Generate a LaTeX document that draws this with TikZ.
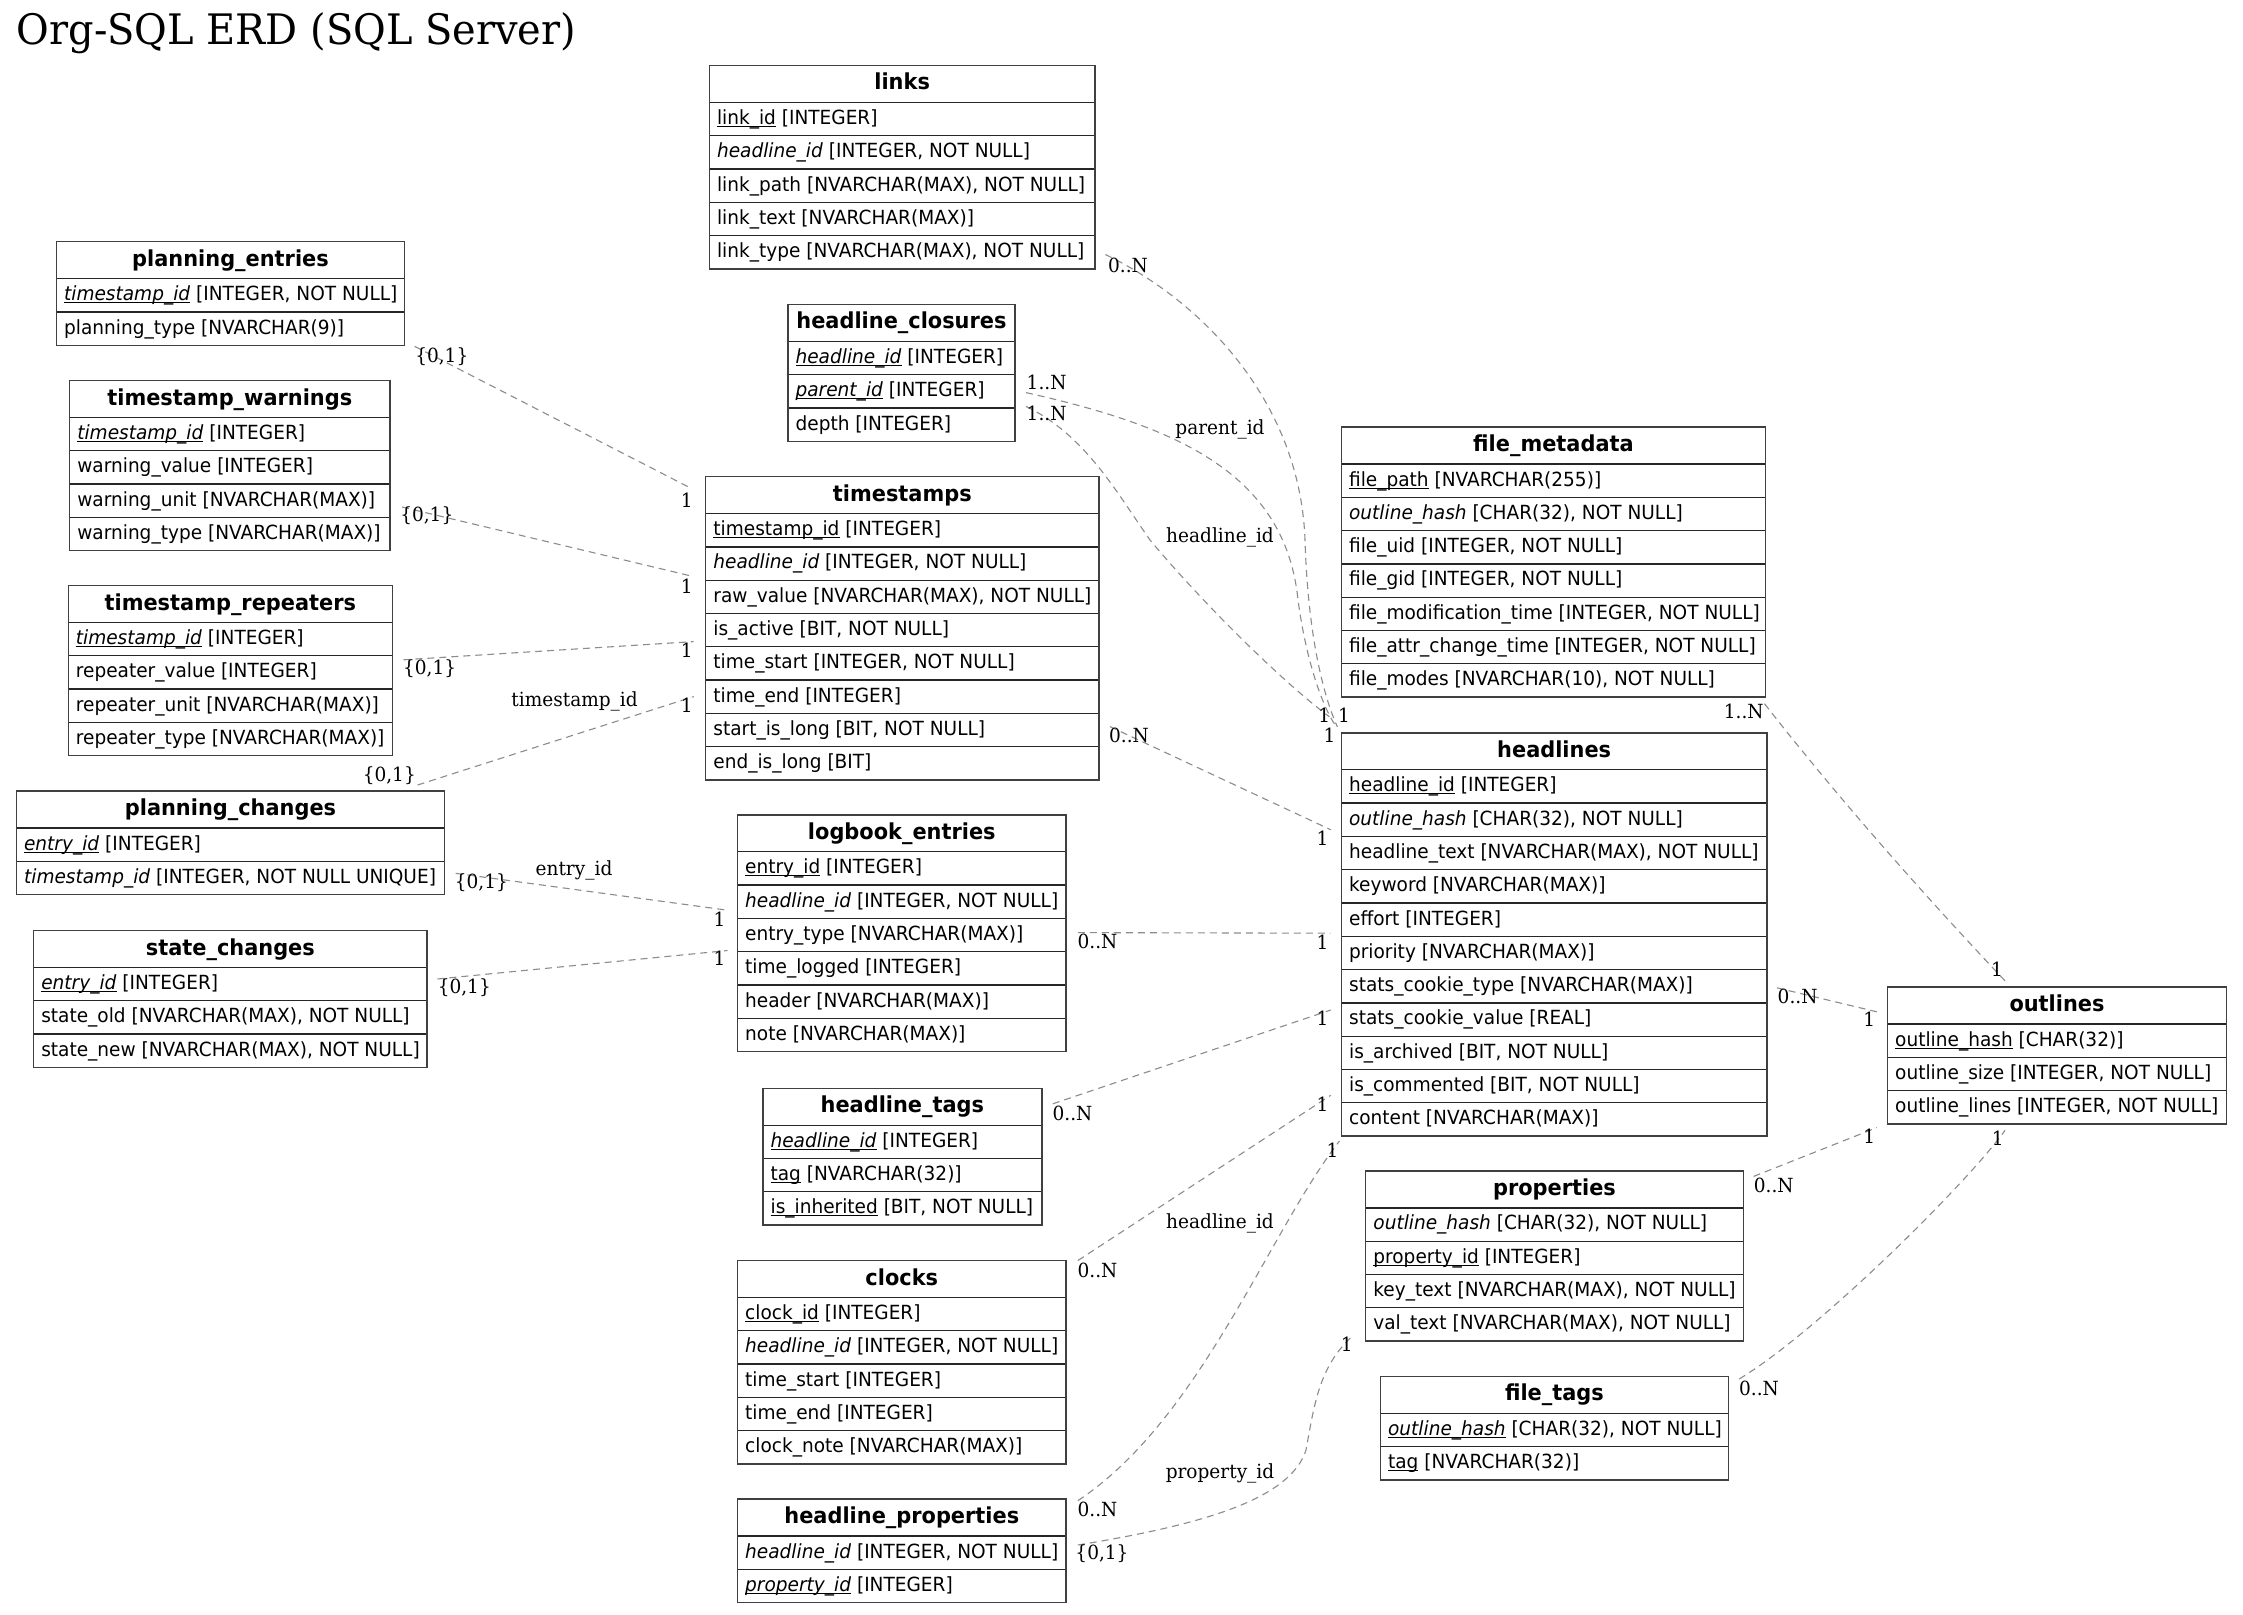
\documentclass[tikz,border=0pt]{standalone}
\usepackage{fontspec}
\setmainfont{DejaVu Sans}[FakeStretch=0.95]
\newfontfamily\erdserif{DejaVu Serif}[FakeStretch=0.95]
\usetikzlibrary{calc}
\newsavebox\pkbox
\newcommand\pk[1]{\sbox\pkbox{#1}\rlap{\rule[-2.6pt]{\wd\pkbox}{1.1pt}}\usebox\pkbox}
\newcommand\fk[1]{\textit{#1}}
\tikzset{
  tabbox/.style={rectangle, fill=white, inner sep=0pt, outer sep=0pt},
  tabborder/.style={draw=black!75, line width=1.4pt},
  sepline/.style={draw=black!85, line width=1.3pt},
  headtxt/.style={inner sep=0pt, font=\fontsize{22}{24}\selectfont\bfseries},
  rowtxt/.style={inner sep=0pt, font=\fontsize{19.5}{22}\selectfont},
  rel/.style={draw=black!45, line width=1.1pt, dash pattern=on 7pt off 5pt},
  lab/.style={inner sep=0pt, font=\erdserif\fontsize{19.5}{22}\selectfont},
  ttl/.style={inner sep=0pt, font=\erdserif\fontsize{42}{46}\selectfont}
}
\newcommand\erdtable[7]{%
  \pgfmathsetmacro\erdH{37+#6*33.3}%
  \node[tabbox, minimum width=#4pt, minimum height=\erdH pt, anchor=north west] (#1) at (#2,#3) {};
  \node[headtxt, anchor=base] (#1-h) at (#2+#4/2, #3+24.5) {#5};
  \draw[sepline] (#2,#3+37) -- ++(#4,0);
  \foreach \r [count=\i] in {#7} {
    \node[rowtxt, anchor=base west] (#1-\i) at (#2+7.5, #3+37+\i*33.3-33.3+22) {\r};
    \ifnum\i<#6\relax \draw[sepline] (#2,#3+37+\i*33.3) -- ++(#4,0);\fi
  }
  \draw[tabborder] (#1.north west) rectangle (#1.south east);
}
\begin{document}
\begin{tikzpicture}[x=1pt,y=-1pt]
\fill[white] (0,0) rectangle (2243,1614);
\useasboundingbox (0,0) rectangle (2243,1614);

\node[ttl, anchor=base west] (title) at (16.5,44) {Org-SQL ERD (SQL Server)};

\erdtable{pe}{56.4}{241.7}{348.2}{planning\_entries}{2}{{\pk{\fk{timestamp\_id}} [INTEGER, NOT NULL]},{planning\_type [NVARCHAR(9)]}}
\erdtable{tw}{69.6}{380.5}{320.4}{timestamp\_warnings}{4}{{\pk{\fk{timestamp\_id}} [INTEGER]},{warning\_value [INTEGER]},{warning\_unit [NVARCHAR(MAX)]},{warning\_type [NVARCHAR(MAX)]}}
\erdtable{tr}{68.2}{585.5}{324.3}{timestamp\_repeaters}{4}{{\pk{\fk{timestamp\_id}} [INTEGER]},{repeater\_value [INTEGER]},{repeater\_unit [NVARCHAR(MAX)]},{repeater\_type [NVARCHAR(MAX)]}}
\erdtable{pc}{16.4}{791}{428.2}{planning\_changes}{2}{{\pk{\fk{entry\_id}} [INTEGER]},{\fk{timestamp\_id} [INTEGER, NOT NULL UNIQUE]}}
\erdtable{sc}{33.6}{930.5}{393.5}{state\_changes}{3}{{\pk{\fk{entry\_id}} [INTEGER]},{state\_old [NVARCHAR(MAX), NOT NULL]},{state\_new [NVARCHAR(MAX), NOT NULL]}}
\erdtable{lk}{709.3}{65.4}{385.7}{links}{5}{{\pk{link\_id} [INTEGER]},{\fk{headline\_id} [INTEGER, NOT NULL]},{link\_path [NVARCHAR(MAX), NOT NULL]},{link\_text [NVARCHAR(MAX)]},{link\_type [NVARCHAR(MAX), NOT NULL]}}
\erdtable{hc}{787.9}{304.4}{227.1}{headline\_closures}{3}{{\pk{\fk{headline\_id}} [INTEGER]},{\pk{\fk{parent\_id}} [INTEGER]},{depth [INTEGER]}}
\erdtable{ts}{705.7}{476.6}{393.2}{timestamps}{8}{{\pk{timestamp\_id} [INTEGER]},{\fk{headline\_id} [INTEGER, NOT NULL]},{raw\_value [NVARCHAR(MAX), NOT NULL]},{is\_active [BIT, NOT NULL]},{time\_start [INTEGER, NOT NULL]},{time\_end [INTEGER]},{start\_is\_long [BIT, NOT NULL]},{end\_is\_long [BIT]}}
\erdtable{le}{737.5}{814.8}{328.6}{logbook\_entries}{6}{{\pk{entry\_id} [INTEGER]},{\fk{headline\_id} [INTEGER, NOT NULL]},{entry\_type [NVARCHAR(MAX)]},{time\_logged [INTEGER]},{header [NVARCHAR(MAX)]},{note [NVARCHAR(MAX)]}}
\erdtable{ht}{762.9}{1088.2}{278.9}{headline\_tags}{3}{{\pk{\fk{headline\_id}} [INTEGER]},{\pk{tag} [NVARCHAR(32)]},{\pk{is\_inherited} [BIT, NOT NULL]}}
\erdtable{cl}{737.5}{1260.5}{328.6}{clocks}{5}{{\pk{clock\_id} [INTEGER]},{\fk{headline\_id} [INTEGER, NOT NULL]},{time\_start [INTEGER]},{time\_end [INTEGER]},{clock\_note [NVARCHAR(MAX)]}}
\erdtable{hp}{737.5}{1499}{328.6}{headline\_properties}{2}{{\fk{headline\_id} [INTEGER, NOT NULL]},{\pk{\fk{property\_id}} [INTEGER]}}
\erdtable{fm}{1341.4}{427}{424.1}{file\_metadata}{7}{{\pk{file\_path} [NVARCHAR(255)]},{\fk{outline\_hash} [CHAR(32), NOT NULL]},{file\_uid [INTEGER, NOT NULL]},{file\_gid [INTEGER, NOT NULL]},{file\_modification\_time [INTEGER, NOT NULL]},{file\_attr\_change\_time [INTEGER, NOT NULL]},{file\_modes [NVARCHAR(10), NOT NULL]}}
\erdtable{hl}{1341.4}{732.8}{425.5}{headlines}{11}{{\pk{headline\_id} [INTEGER]},{\fk{outline\_hash} [CHAR(32), NOT NULL]},{headline\_text [NVARCHAR(MAX), NOT NULL]},{keyword [NVARCHAR(MAX)]},{effort [INTEGER]},{priority [NVARCHAR(MAX)]},{stats\_cookie\_type [NVARCHAR(MAX)]},{stats\_cookie\_value [REAL]},{is\_archived [BIT, NOT NULL]},{is\_commented [BIT, NOT NULL]},{content [NVARCHAR(MAX)]}}
\erdtable{ol}{1887.5}{987}{339}{outlines}{3}{{\pk{outline\_hash} [CHAR(32)]},{outline\_size [INTEGER, NOT NULL]},{outline\_lines [INTEGER, NOT NULL]}}
\erdtable{pr}{1365.7}{1170.9}{377.5}{properties}{4}{{\fk{outline\_hash} [CHAR(32), NOT NULL]},{\pk{property\_id} [INTEGER]},{key\_text [NVARCHAR(MAX), NOT NULL]},{val\_text [NVARCHAR(MAX), NOT NULL]}}
\erdtable{ft}{1380.4}{1376.3}{348.1}{file\_tags}{2}{{\pk{\fk{outline\_hash}} [CHAR(32), NOT NULL]},{\pk{tag} [NVARCHAR(32)]}}

% connectors
\draw[rel] ($(pe.south east)+(10,1)$) -- ($(ts.north west)+(-14,12)$);
\draw[rel] ($(tw.north east)+(12,126.5)$) -- ($(ts.north west)+(-12,100)$);
\draw[rel] ($(tr.north east)+(11,74.3)$) -- ($(ts.north west)+(-12,165)$);
\draw[rel] ($(pc.north east)+(-27,-6)$) -- ($(ts.north west)+(-12,220)$);
\draw[rel] ($(pc.north east)+(11,82.3)$) -- ($(le.north west)+(-10,95.4)$);
\draw[rel] ($(sc.north east)+(10.4,48.5)$) -- ($(le.north west)+(-10,135.7)$);
\draw[rel] ($(lk.south east)+(10.4,-14.4)$) .. controls (1200,300) and (1300,400) .. (1305,540) .. controls (1308,640) and (1325,700) .. ($(hl.north west)+(-4,-6)$);
\draw[rel] ($(hc.north east)+(11,88.2)$) .. controls (1170,425) and (1285,470) .. (1298,600) .. controls (1306,660) and (1322,705) .. ($(hl.north west)+(-7,-9)$);
\draw[rel] ($(hc.north east)+(11,102)$) .. controls (1085,435) and (1115,490) .. (1150,540) .. controls (1200,600) and (1280,680) .. ($(hl.north west)+(-12,-16)$);
\draw[rel] ($(ts.north east)+(11,250)$) -- ($(hl.north west)+(-10.5,97)$);
\draw[rel] ($(le.north east)+(11.8,117.8)$) -- ($(hl.north west)+(-11,200.4)$);
\draw[rel] ($(ht.north east)+(11,15.6)$) -- ($(hl.north west)+(-10.7,277.2)$);
\draw[rel] ($(cl.north east)+(11.8,0)$) -- ($(hl.north west)+(-10.7,362.5)$);
\draw[rel] ($(hp.north east)+(11.8,1.6)$) .. controls (1200,1420) and (1270,1230) .. ($(hl.south west)+(-2,5)$);
\draw[rel] ($(hp.north east)+(11.8,46)$) .. controls (1200,1525) and (1290,1500) .. (1306,1450) .. controls (1315,1400) and (1320,1365) .. ($(pr.south west)+(-11.7,-6.5)$);
\draw[rel] ($(fm.south east)+(-1,6.6)$) .. controls (1824,780) and (1905,875) .. ($(ol.north west)+(117.5,-6.2)$);
\draw[rel] ($(hl.north east)+(10,255)$) -- ($(ol.north west)+(-10.7,24.8)$);
\draw[rel] ($(pr.north east)+(10.4,5.5)$) -- ($(ol.south west)+(-10.7,3.7)$);
\draw[rel] ($(ft.north east)+(10.7,2.7)$) .. controls (1820,1330) and (1970,1180) .. ($(ol.south west)+(117.5,6.4)$);

% connector labels
\node[lab] (a1) at (441.8,356.4) {\{0,1\}};
\node[lab] (b1) at (686.8,500) {1};
\node[lab] (a2) at (426.8,515.5) {\{0,1\}};
\node[lab] (b2) at (686.8,586.5) {1};
\node[lab] (a3) at (429.6,669.1) {\{0,1\}};
\node[lab] (b3) at (686.8,650.2) {1};
\node[lab] (a4) at (389.3,775.2) {\{0,1\}};
\node[lab] (b4) at (686.8,705.3) {1};
\node[lab] (m4) at (574.6,701.8) {timestamp\_id};
\node[lab] (a5) at (481.4,882.6) {\{0,1\}};
\node[lab] (b5) at (719.6,918.8) {1};
\node[lab] (m5) at (574,870.6) {entry\_id};
\node[lab] (a6) at (464.3,987.7) {\{0,1\}};
\node[lab] (b6) at (719.6,958.4) {1};
\node[lab] (a7) at (1128,265) {0..N};
\node[lab] (a8) at (1046.6,382.2) {1..N};
\node[lab] (a9) at (1046.6,413.2) {1..N};
\node[lab] (m8) at (1220,429.4) {parent\_id};
\node[lab] (m9) at (1220,537.2) {headline\_id};
\node[lab] (b7) at (1324.3,714.9) {1};
\node[lab] (b8) at (1343.9,714.9) {1};
\node[lab] (b9) at (1329.6,735.2) {1};
\node[lab] (a10) at (1129,735) {0..N};
\node[lab] (b10) at (1322.5,837.9) {1};
\node[lab] (a11) at (1097.5,941.2) {0..N};
\node[lab] (b11) at (1322.5,942.2) {1};
\node[lab] (a12) at (1072.5,1113) {0..N};
\node[lab] (b12) at (1322.5,1018.6) {1};
\node[lab] (a13) at (1097.5,1270.7) {0..N};
\node[lab] (b13) at (1322.5,1103.8) {1};
\node[lab] (m13) at (1220,1223.7) {headline\_id};
\node[lab] (a14) at (1097.5,1509.8) {0..N};
\node[lab] (b14) at (1332.5,1149.8) {1};
\node[lab] (a15) at (1102,1554.1) {\{0,1\}};
\node[lab] (m15) at (1220,1473.4) {property\_id};
\node[lab] (b15) at (1346.8,1344) {1};
\node[lab] (a16) at (1743.8,711.1) {1..N};
\node[lab] (b16) at (1997,969.4) {1};
\node[lab] (a17) at (1797.6,996.3) {0..N};
\node[lab] (b17) at (1869.2,1019.7) {1};
\node[lab] (a18) at (1773.7,1185.6) {0..N};
\node[lab] (b18) at (1869.2,1136.2) {1};
\node[lab] (a19) at (1759,1388.2) {0..N};
\node[lab] (b19) at (1997.8,1138.6) {1};
\end{tikzpicture}
\end{document}
